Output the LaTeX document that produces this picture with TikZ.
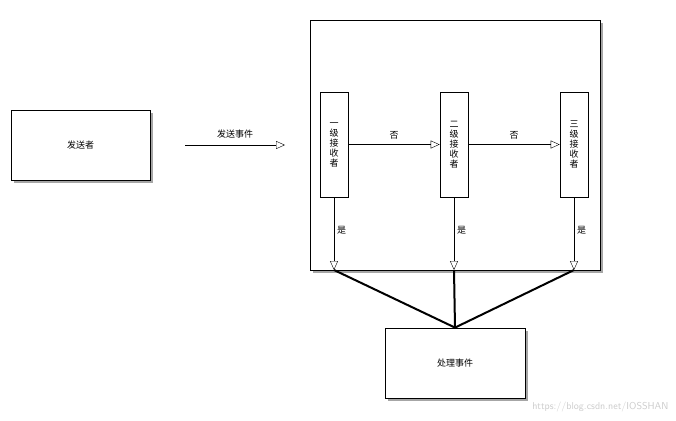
\documentclass[tikz,border=0pt]{standalone}
\usepackage{fontspec}
\newfontfamily\cjk{Noto Sans CJK SC}
\usetikzlibrary{arrows.meta}
\begin{document}
\begin{tikzpicture}[x=1pt,y=-1pt,font=\cjk\fontsize{9}{10}\selectfont,
 box/.style={draw,thick,fill=white},
 shadow/.style={fill=gray!70,draw=none},
 arr/.style={-{Triangle[open,length=9pt,width=8pt]}},
 lbl/.style={inner sep=1pt}]
\useasboundingbox (0,0) rectangle (676,420);
\fill[white] (0,0) rectangle (676,420);
% shadows
\fill[shadow] (14,113) rectangle (153,183);
\fill[shadow] (313,23) rectangle (603,273);
\fill[shadow] (388,331) rectangle (528,401);
% main boxes
\node[box,minimum width=139pt,minimum height=70pt] (snd) at (80.5,145) {发送者};
\draw[box] (310,20) rectangle (600,270);
\node[box,minimum width=140pt,minimum height=70pt] (proc) at (455,363) {处理事件};
% receivers
\foreach \n/\x/\t in {r1/334/一, r2/454/二, r3/574/三}{
  \node[box,minimum width=28pt,minimum height=105pt,align=center,inner sep=0pt] (\n) at (\x,144.5) {\t\\级\\接\\收\\者};
  \coordinate (\n b) at (\x,270);
}
\coordinate (sa) at (185,145);
\coordinate (sb) at (285,145);
\draw[arr] (sa) -- node[above=6pt,lbl]{发送事件} (sb);
\draw[arr] (r1) -- node[above=4pt,lbl]{否} (r2);
\draw[arr] (r2) -- node[above=4pt,lbl]{否} (r3);
\foreach \n in {r1,r2,r3}{
  \draw[arr] (\n.south) -- node[right=2pt,lbl,pos=0.45]{是} (\n b);
  \draw[line width=2pt] (\n b) -- (proc.north);
}
\node[text=gray!40,font=\sffamily\fontsize{10}{11}\selectfont,anchor=south east] (wm) at (672,416) {https://blog.csdn.net/IOSSHAN};
\end{tikzpicture}
\end{document}
